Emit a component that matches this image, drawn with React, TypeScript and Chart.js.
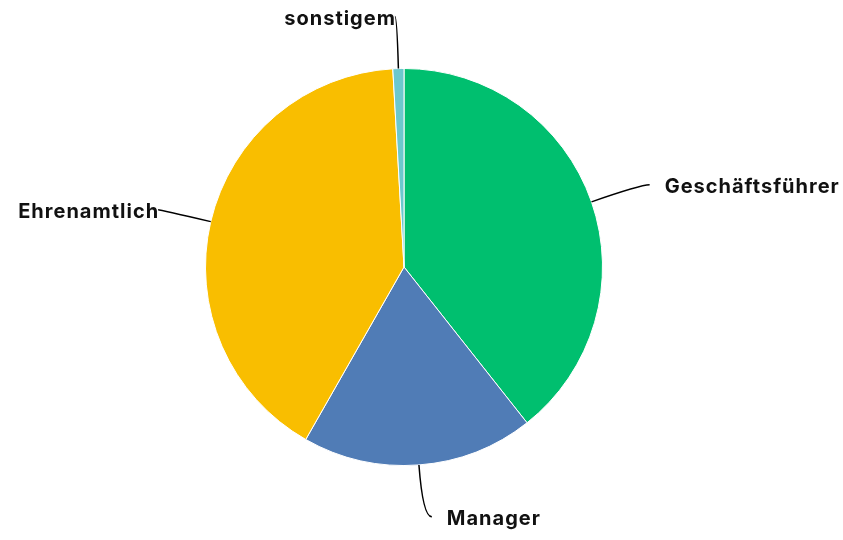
import React, { useEffect, useRef } from "react";
import { Chart, registerables } from "chart.js";

Chart.register(...registerables);

const categories = ["Geschäftsführer", "Manager", "Ehrenamtlich", "sonstigem"];
const values = [39.4, 18.9, 40.9, 0.9];
const colors = ["#00BF6F", "#507CB6", "#F9BE00", "#6BC8CD"];

const FONT = "bold 20px Inter, 'Noto Sans', sans-serif";

const leaderLabels = {
  id: "leaderLabels",
  afterDraw(chart: any) {
    const ctx = chart.ctx as CanvasRenderingContext2D;
    const meta = chart.getDatasetMeta(0);
    ctx.save();
    meta.data.forEach((arc: any, i: number) => {
      const { x, y, startAngle, endAngle, outerRadius } = arc.getProps(
        ["x", "y", "startAngle", "endAngle", "outerRadius"],
        true
      );
      const mid = (startAngle + endAngle) / 2;
      const cos = Math.cos(mid);
      const sin = Math.sin(mid);
      const p0x = x + cos * outerRadius;
      const p0y = y + sin * outerRadius;
      const rEnd = outerRadius + 52;
      const ex = x + cos * rEnd;
      const ey = y + sin * rEnd;
      const right = cos >= 0;
      const p2x = ex + (right ? 9 : -2);
      const p2y = ey;
      ctx.beginPath();
      ctx.moveTo(p0x, p0y);
      ctx.quadraticCurveTo(ex, ey, p2x, p2y);
      ctx.strokeStyle = "#000";
      ctx.lineWidth = 1.5;
      ctx.stroke();
      ctx.font = FONT;
      (ctx as any).letterSpacing = "1px";
      ctx.fillStyle = "#111";
      ctx.textBaseline = "middle";
      ctx.textAlign = right ? "left" : "right";
      ctx.fillText(categories[i], right ? p2x + 15 : p2x + 1, p2y + 2);
      (ctx as any).letterSpacing = "0px";
    });
    ctx.restore();
  },
};

export default function App() {
  const ref = useRef<HTMLCanvasElement | null>(null);
  useEffect(() => {
    document.body.style.margin = "0";
    const chart = new Chart(ref.current!, {
      type: "pie",
      data: {
        labels: categories,
        datasets: [
          {
            data: values,
            backgroundColor: colors,
            borderColor: "#ffffff",
            borderWidth: 1,
          },
        ],
      },
      options: {
        animation: false,
        responsive: false,
        layout: { padding: { left: 150, right: 185, top: 68, bottom: 74 } },
        plugins: {
          legend: { display: false },
          tooltip: { enabled: false },
        },
      },
      plugins: [leaderLabels],
    });
    return () => chart.destroy();
  }, []);
  return (
    <div style={{ position: "absolute", left: 0, top: 0, width: 843, height: 540, background: "#fff" }}>
      <canvas ref={ref} width={843} height={540} />
    </div>
  );
}
